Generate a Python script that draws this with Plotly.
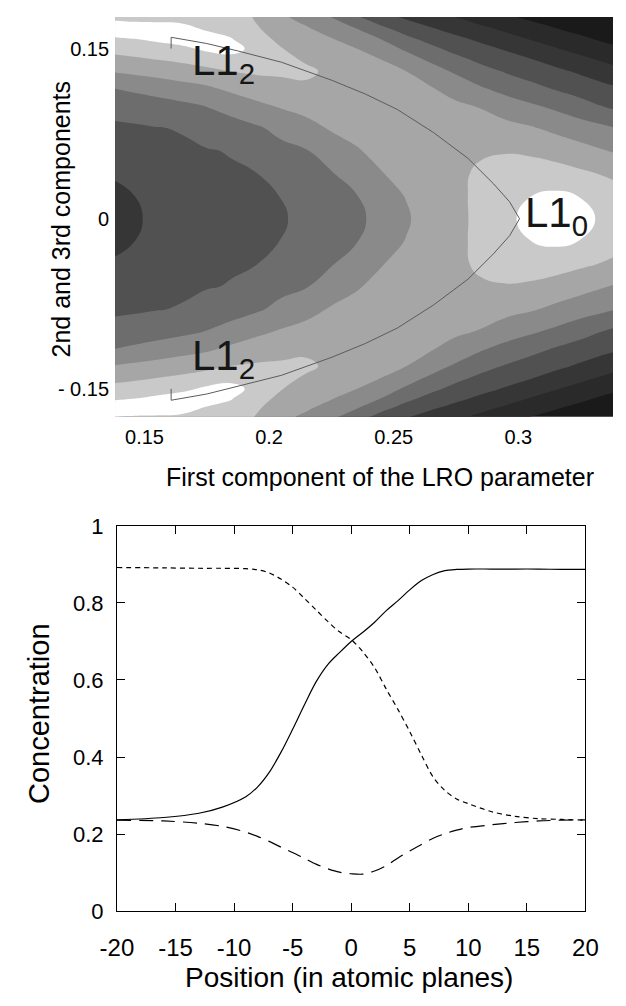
import plotly.graph_objects as go

# ---------------- Top panel: level map (band index) ----------------
lro_first = [0.135, 0.145, 0.155, 0.165, 0.175, 0.185, 0.195, 0.205, 0.215, 0.225, 0.235,
             0.245, 0.255, 0.265, 0.275, 0.285, 0.295, 0.305, 0.315, 0.325, 0.335, 0.345]
lro_other_upper = [0.0, 0.02, 0.04, 0.06, 0.08, 0.10, 0.115, 0.13, 0.14, 0.15, 0.158, 0.166, 0.174, 0.182]

level_upper = [
    [2.80, 3.20, 3.90, 4.00, 4.10, 4.20, 4.33, 4.45, 4.64, 4.90, 5.20, 5.95, 6.40, 6.90, 7.25, 7.75, 8.20, 8.90, 9.40, 8.90, 8.22, 7.90],
    [3.19, 3.45, 4.04, 4.13, 4.22, 4.30, 4.41, 4.51, 4.92, 5.17, 5.45, 6.20, 6.53, 7.05, 7.30, 7.72, 8.10, 8.49, 8.68, 8.47, 8.00, 7.70],
    [3.57, 3.75, 4.18, 4.25, 4.33, 4.41, 4.49, 4.89, 5.19, 5.44, 5.97, 6.45, 6.92, 7.20, 7.35, 7.62, 7.85, 7.94, 7.90, 7.66, 7.41, 7.15],
    [3.93, 4.06, 4.32, 4.38, 4.45, 4.55, 4.93, 5.25, 5.46, 5.99, 6.42, 6.77, 7.20, 7.22, 7.19, 7.41, 7.44, 7.35, 7.10, 6.83, 6.52, 6.22],
    [4.30, 4.37, 4.47, 4.55, 4.86, 5.12, 5.38, 5.77, 6.18, 6.60, 6.80, 7.10, 7.21, 6.98, 6.91, 6.94, 6.81, 6.59, 6.27, 5.94, 5.65, 5.27],
    [4.86, 4.98, 5.12, 5.32, 5.55, 5.88, 6.31, 6.63, 6.85, 7.04, 7.16, 7.17, 6.93, 6.74, 6.63, 6.42, 5.95, 5.61, 5.26, 4.84, 4.40, 4.07],
    [5.46, 5.66, 5.90, 6.14, 6.35, 6.73, 7.01, 7.17, 7.29, 7.38, 7.16, 6.92, 6.71, 6.56, 6.17, 5.59, 5.17, 4.80, 4.40, 4.06, 3.74, 3.42],
    [6.51, 6.69, 6.87, 7.05, 7.27, 7.52, 7.63, 7.67, 7.71, 7.26, 6.88, 6.67, 6.50, 5.92, 5.34, 4.82, 4.42, 4.05, 3.71, 3.35, 2.95, 2.56],
    [7.16, 7.30, 7.48, 7.66, 7.88, 8.08, 7.95, 7.82, 7.37, 7.02, 6.70, 6.51, 5.94, 5.34, 4.77, 4.31, 3.92, 3.57, 3.16, 2.76, 2.36, 1.98],
    [7.79, 7.93, 8.10, 8.26, 8.70, 8.90, 8.13, 7.53, 7.09, 6.77, 6.51, 5.96, 5.35, 4.72, 4.20, 3.78, 3.40, 2.97, 2.56, 2.16, 1.78, 1.45],
    [8.28, 8.43, 8.65, 8.95, 9.30, 8.55, 7.89, 7.27, 6.87, 6.57, 6.09, 5.51, 4.78, 4.20, 3.74, 3.33, 2.90, 2.48, 2.08, 1.70, 1.35, 1.20],
    [8.98, 9.26, 9.16, 9.05, 8.45, 8.28, 7.65, 7.00, 6.65, 6.22, 5.64, 4.86, 4.20, 3.68, 3.25, 2.81, 2.40, 2.00, 1.60, 1.30, 1.10, 1.00],
    [8.56, 8.48, 8.44, 8.34, 8.23, 8.14, 7.45, 6.74, 6.35, 5.78, 4.98, 4.20, 3.62, 3.16, 2.73, 2.31, 1.91, 1.52, 1.25, 1.05, 0.95, 0.90],
    [8.02, 8.00, 8.00, 8.00, 8.00, 8.00, 7.30, 6.48, 5.90, 5.15, 4.21, 3.52, 3.08, 2.65, 2.23, 1.82, 1.42, 1.10, 1.00, 0.90, 0.85, 0.80],
]

# the map is symmetric about 0 in the 2nd/3rd component
lro_other = [-v for v in reversed(lro_other_upper[1:])] + lro_other_upper
level = [row for row in reversed(level_upper[1:])] + level_upper

band_colors = ["#1a1a1a", "#2a2a2a", "#363636", "#515151", "#6d6d6d",
               "#8a8a8a", "#a6a6a6", "#c9c9c9", "#ffffff"]

# path between the L1_2 and L1_0 states
path_x = [0.1607, 0.1607, 0.175, 0.1874, 0.205, 0.2253, 0.2386, 0.2515, 0.2660, 0.2798, 0.2900, 0.2965, 0.3005,
          0.2965, 0.2900, 0.2798, 0.2660, 0.2515, 0.2386, 0.2253, 0.205, 0.1874, 0.175, 0.1607, 0.1607]
path_y = [0.150, 0.160, 0.1545, 0.148, 0.138, 0.122, 0.110, 0.0963, 0.076, 0.0533, 0.031, 0.015, 0.0,
          -0.015, -0.031, -0.0533, -0.076, -0.0963, -0.110, -0.122, -0.138, -0.148, -0.1545, -0.160, -0.150]

phase_labels = ["L1<sub>2</sub>", "L1<sub>2</sub>", "L1<sub>0</sub>"]
phase_x = [0.1817, 0.1817, 0.3153]
phase_y = [0.1367, -0.123, 0.0026]

top_xticks = [0.15, 0.2, 0.25, 0.3]
top_xtext = ["0.15", "0.2", "0.25", "0.3"]
top_yticks = [-0.15, 0.0, 0.15]
top_ytext = ["- 0.15", "0", "0.15"]

# ---------------- Bottom panel: concentration profiles ----------------
position = [-20, -16, -13, -11, -9, -8, -7, -6, -5, -4, -3, -2, -1, 0, 1, 2, 3, 4, 5, 6, 7, 8, 9, 10, 12, 14, 16, 18, 20]
conc_solid = [0.237, 0.243, 0.254, 0.270, 0.297, 0.322, 0.360, 0.412, 0.472, 0.535, 0.595, 0.640, 0.671, 0.700,
              0.724, 0.750, 0.780, 0.806, 0.834, 0.858, 0.874, 0.884, 0.887, 0.888, 0.888, 0.888, 0.888, 0.887, 0.887]
conc_short = [0.892, 0.891, 0.890, 0.890, 0.889, 0.886, 0.878, 0.862, 0.841, 0.812, 0.782, 0.752, 0.725, 0.705,
              0.673, 0.632, 0.576, 0.523, 0.466, 0.405, 0.348, 0.313, 0.291, 0.279, 0.258, 0.246, 0.240, 0.238, 0.236]
conc_long = [0.236, 0.234, 0.228, 0.220, 0.205, 0.194, 0.181, 0.166, 0.152, 0.137, 0.122, 0.110, 0.101, 0.097,
             0.096, 0.104, 0.118, 0.138, 0.156, 0.173, 0.189, 0.201, 0.210, 0.217, 0.224, 0.230, 0.234, 0.236, 0.237]

bottom_xticks = [-20, -15, -10, -5, 0, 5, 10, 15, 20]
bottom_xtext = ["-20", "-15", "-10", "-5", "0", "5", "10", "15", "20"]
bottom_yticks = [0, 0.2, 0.4, 0.6, 0.8, 1]
bottom_ytext = ["0", "0.2", "0.4", "0.6", "0.8", "1"]

# ---------------- Figure ----------------
W, H = 626, 1006
FONT = "Liberation Sans, Arial, Helvetica, sans-serif"

n = len(band_colors)
colorscale = []
for i, c in enumerate(band_colors):
    colorscale.append([i / n, c])
    colorscale.append([(i + 1) / n, c])

fig = go.Figure()
fig.add_trace(go.Contour(
    x=lro_first, y=lro_other, z=level,
    contours=dict(start=1.5, end=8.5, size=1, coloring="fill", showlines=False),
    line=dict(width=0, smoothing=1.3),
    colorscale=colorscale, showscale=False, hoverinfo="skip",
    xaxis="x", yaxis="y",
))
fig.add_trace(go.Scatter(
    x=path_x, y=path_y, mode="lines",
    line=dict(color="#5c5c5c", width=1), hoverinfo="skip",
    xaxis="x", yaxis="y", showlegend=False,
))

for yy, dash in [(conc_solid, "solid"), (conc_short, "5px,4px"), (conc_long, "14px,8px")]:
    fig.add_trace(go.Scatter(
        x=position, y=yy, mode="lines",
        line=dict(color="black", width=1.2, dash=dash, shape="spline", smoothing=0.9),
        xaxis="x2", yaxis="y2", showlegend=False, hoverinfo="skip",
    ))

def px_x(p):
    return p / W

def px_y(p):
    return 1 - p / H

annotations = []
for t, xx, yy in zip(phase_labels, phase_x, phase_y):
    annotations.append(dict(x=xx, y=yy, xref="x", yref="y", text=t, showarrow=False,
                            font=dict(family=FONT, size=42, color="#161616"),
                            xanchor="center", yanchor="middle"))

annotations += [
    dict(x=px_x(381), y=px_y(477), xref="paper", yref="paper",
         text="First component of the LRO parameter", showarrow=False,
         font=dict(family=FONT, size=25, color="black"), xanchor="center", yanchor="middle"),
    dict(x=px_x(46), y=px_y(212), xref="paper", yref="paper",
         text="2nd and 3rd components", showarrow=False, textangle=-90,
         font=dict(family=FONT, size=25, color="black"), xanchor="center", yanchor="middle"),
    dict(x=px_x(23), y=px_y(719), xref="paper", yref="paper",
         text="Concentration", showarrow=False, textangle=-90,
         font=dict(family=FONT, size=29, color="black"), xanchor="center", yanchor="middle"),
    dict(x=px_x(349), y=px_y(990), xref="paper", yref="paper",
         text="Position (in atomic planes)", showarrow=False,
         font=dict(family=FONT, size=28, color="black"), xanchor="center", yanchor="middle"),
]

fig.update_layout(
    width=W, height=H,
    margin=dict(l=0, r=0, t=0, b=0),
    paper_bgcolor="white", plot_bgcolor="white",
    showlegend=False,
    font=dict(family=FONT, color="black"),
    annotations=annotations,
    xaxis=dict(domain=[103 / W, 1.0], range=[0.1382, 0.338], anchor="y",
               showgrid=False, zeroline=False, showline=False, ticks="",
               tickvals=top_xticks, ticktext=top_xtext,
               tickfont=dict(size=20), ticklabelstandoff=6),
    yaxis=dict(domain=[px_y(415), px_y(5)], range=[-0.1745, 0.178], anchor="x",
               showgrid=False, zeroline=False, showline=False, ticks="",
               tickvals=top_yticks, ticktext=top_ytext,
               tickfont=dict(size=20), ticklabelstandoff=5),
    xaxis2=dict(domain=[105 / W, 597 / W], range=[-20, 20], anchor="y2",
                showgrid=False, zeroline=False, showline=True, linecolor="black", linewidth=1,
                mirror="ticks", ticks="inside", ticklen=8, tickcolor="black",
                tickvals=bottom_xticks, ticktext=bottom_xtext,
                tickfont=dict(size=24), ticklabelstandoff=15),
    yaxis2=dict(domain=[px_y(922), px_y(527)], range=[0, 1], anchor="x2",
                showgrid=False, zeroline=False, showline=True, linecolor="black", linewidth=1,
                mirror="ticks", ticks="inside", ticklen=8, tickcolor="black",
                tickvals=bottom_yticks, ticktext=bottom_ytext,
                tickfont=dict(size=22), ticklabelstandoff=8),
)

fig.write_html("out.html", config={"displayModeBar": False},
               post_script="document.body.style.margin='0px';")
